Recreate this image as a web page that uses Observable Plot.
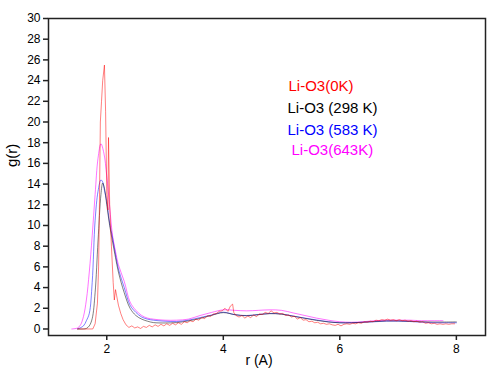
<!DOCTYPE html>
<html>
<head>
<meta charset="utf-8">
<script src="https://cdn.jsdelivr.net/npm/d3@7"></script>
<script src="https://cdn.jsdelivr.net/npm/@observablehq/plot@0.6"></script>
<style>
  html, body { margin: 0; padding: 0; background: #fff; }
  #chart svg { display: block; }
</style>
</head>
<body>
<div id="chart"></div>
<script>
// ---- Data ----
const seriesNames = ["Li-O3(0K)", "Li-O3 (298 K)", "Li-O3 (583 K)", "Li-O3(643K)"];
const seriesColors = ["#ff0000", "#000000", "#0000ff", "#ff00ff"];

const xTicks = [2, 4, 6, 8];
const yTicks = [0, 2, 4, 6, 8, 10, 12, 14, 16, 18, 20, 22, 24, 26, 28, 30];

// 0 K (red, noisy)
const r0K = [1.50,1.76,1.80,1.84,1.86,1.87,1.89,1.91,1.93,1.96,1.98,2.00,2.02,2.03,2.05,2.08,2.11,2.13,2.15,2.17,2.20,2.24,2.28,2.33,2.38,2.43,2.48,2.53,2.58,2.63,2.68,2.73,2.78,2.83,2.88,2.93,2.98,3.03,3.08,3.13,3.18,3.23,3.28,3.33,3.38,3.43,3.48,3.53,3.58,3.63,3.68,3.73,3.78,3.83,3.88,3.93,3.98,4.03,4.08,4.12,4.16,4.18,4.22,4.27,4.32,4.37,4.42,4.47,4.52,4.57,4.62,4.67,4.72,4.77,4.82,4.87,4.92,4.97,5.02,5.07,5.12,5.17,5.22,5.27,5.32,5.37,5.42,5.47,5.52,5.57,5.62,5.67,5.72,5.77,5.82,5.87,5.92,5.97,6.02,6.07,6.12,6.17,6.22,6.27,6.32,6.37,6.42,6.47,6.52,6.57,6.62,6.67,6.72,6.77,6.82,6.87,6.92,6.97,7.02,7.07,7.12,7.17,7.22,7.27,7.32,7.37,7.42,7.47,7.52,7.57,7.62,7.67,7.72,7.77,7.82,7.87,7.92,7.97];
const g0K = [0,0,0.5,2.5,6,10,20,22,24,25.5,21,13,11.5,18.5,12,8,4.5,2.8,3.8,3.2,2.3,1.5,0.9,0.4,0.15,0.3,0.1,0.2,0.05,0.25,0.15,0.35,0.2,0.4,0.25,0.45,0.3,0.5,0.35,0.55,0.4,0.6,0.45,0.7,0.6,0.8,0.7,0.95,0.85,1.1,1.0,1.3,1.2,1.45,1.5,1.7,1.75,2.0,1.7,2.2,2.4,1.6,1.3,1.15,1.3,1.05,1.25,1.1,1.35,1.2,1.45,1.4,1.6,1.5,1.75,1.55,1.6,1.45,1.5,1.3,1.35,1.15,1.25,0.95,1.1,0.85,0.9,0.7,0.75,0.6,0.65,0.5,0.55,0.45,0.5,0.4,0.35,0.45,0.3,0.45,0.5,0.45,0.55,0.5,0.6,0.55,0.7,0.65,0.75,0.7,0.85,0.8,0.9,0.85,0.95,0.85,0.9,0.8,0.9,0.8,0.85,0.75,0.8,0.7,0.75,0.65,0.7,0.55,0.6,0.5,0.55,0.45,0.5,0.45,0.5,0.45,0.5,0.5];

// shared grid for the smooth curves
const rSmooth = [1.50,1.60,1.65,1.70,1.75,1.80,1.85,1.90,1.93,1.96,2.00,2.05,2.10,2.15,2.20,2.30,2.40,2.50,2.60,2.70,2.80,3.00,3.20,3.40,3.60,3.80,4.00,4.20,4.40,4.60,4.80,5.00,5.20,5.40,5.60,5.80,6.00,6.20,6.40,6.60,6.80,7.00,7.20,7.40,7.60,7.80,8.00];
// 298 K (black)
const g298K = [0,0,0.05,0.3,1.0,3.5,8.5,13,14.1,13.6,12,10,8.4,6.9,5.5,3.5,2.0,1.3,0.95,0.75,0.62,0.58,0.62,0.78,1.02,1.32,1.58,1.38,1.28,1.38,1.48,1.43,1.23,1.03,0.83,0.68,0.6,0.6,0.65,0.72,0.78,0.78,0.74,0.7,0.67,0.67,0.68];
// 583 K (blue)
const g583K = [0,0.3,0.8,1.5,4.5,10.5,13.3,14.4,14.2,13.4,12.3,10.2,8.8,7.2,5.8,4.0,2.3,1.6,1.15,0.95,0.85,0.75,0.72,0.85,1.1,1.35,1.62,1.38,1.3,1.4,1.5,1.45,1.25,1.05,0.87,0.7,0.6,0.6,0.65,0.7,0.76,0.76,0.72,0.66,0.6,0.6,0.6];
// 643 K (magenta)
const r643K = [1.40,1.50,1.55,1.60,1.65,1.70,1.75,1.80,1.85,1.90,1.95,2.00,2.05,2.10,2.15,2.20,2.30,2.40,2.50,2.60,2.70,2.80,3.00,3.20,3.40,3.60,3.80,4.00,4.20,4.40,4.60,4.80,5.00,5.20,5.40,5.60,5.80,6.00,6.20,6.40,6.60,6.80,7.00,7.20,7.40,7.60,7.77];
const g643K = [0,0.1,0.4,1.2,2.8,5.5,9,13,16.5,17.9,17,14.8,11.8,9,7.5,6.2,4.6,2.6,1.8,1.3,1.05,0.95,0.85,0.85,0.95,1.3,1.6,1.85,1.8,1.75,1.8,1.85,1.8,1.55,1.3,1.05,0.85,0.7,0.65,0.7,0.8,0.85,0.85,0.85,0.8,0.8,0.8];

const toRows = (rs, gs) => rs.map((r, i) => ({r, g: gs[i]}));
const d0 = toRows(r0K, g0K);
const d298 = toRows(rSmooth, g298K);
const d583 = toRows(rSmooth, g583K);
const d643 = toRows(r643K, g643K);

const font = "'Liberation Sans', Arial, sans-serif";

const chart = Plot.plot({
  width: 501,
  height: 382,
  marginLeft: 48,
  marginRight: 16,
  marginTop: 18,
  marginBottom: 47,
  style: {fontFamily: font, fontSize: "12px", background: "#fff", color: "#000"},
  x: {domain: [1.0, 8.5], label: null},
  y: {domain: [-0.63, 30], label: null},
  marks: [
    Plot.line(d643, {x: "r", y: "g", stroke: seriesColors[3], strokeWidth: 1, strokeOpacity: 0.55, curve: "catmull-rom"}),
    Plot.line(d583, {x: "r", y: "g", stroke: seriesColors[2], strokeWidth: 1, strokeOpacity: 0.5, curve: "catmull-rom"}),
    Plot.line(d298, {x: "r", y: "g", stroke: seriesColors[1], strokeWidth: 1, strokeOpacity: 0.5, curve: "catmull-rom"}),
    Plot.line(d0, {x: "r", y: "g", stroke: seriesColors[0], strokeWidth: 1, strokeOpacity: 0.5}),
    Plot.axisX({ticks: xTicks, tickSize: 5, tickPadding: 4, fontSize: 12, label: null, stroke: "#222", strokeWidth: 1.5}),
    Plot.axisY({ticks: yTicks, tickSize: 5, tickPadding: 3, fontSize: 12, label: null, stroke: "#222", strokeWidth: 1.5}),
    Plot.frame({stroke: "#222", strokeWidth: 1.5}),
    Plot.text(["g(r)"], {frameAnchor: "left", dx: -36, dy: -10, rotate: -90, fontSize: 15, fill: "#000"}),
    Plot.text(["r (A)"], {frameAnchor: "bottom", dx: -8, dy: 29, fontSize: 14, fill: "#000"}),
    Plot.text([seriesNames[0]], {frameAnchor: "top-left", dx: 240, dy: 62, textAnchor: "start", fontSize: 15, fill: seriesColors[0]}),
    Plot.text([seriesNames[1]], {frameAnchor: "top-left", dx: 239, dy: 84, textAnchor: "start", fontSize: 15, fill: seriesColors[1]}),
    Plot.text([seriesNames[2]], {frameAnchor: "top-left", dx: 239, dy: 106, textAnchor: "start", fontSize: 15, fill: seriesColors[2]}),
    Plot.text([seriesNames[3]], {frameAnchor: "top-left", dx: 243, dy: 126, textAnchor: "start", fontSize: 15, fill: seriesColors[3]})
  ]
});
document.getElementById("chart").appendChild(chart);
</script>
</body>
</html>
